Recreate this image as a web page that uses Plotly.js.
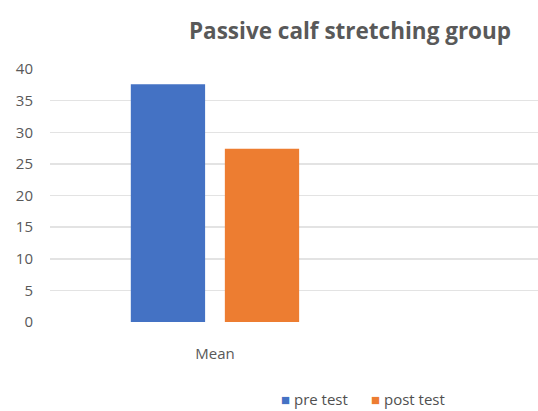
<!DOCTYPE html>
<html>
<head>
<meta charset="utf-8">
<script src="https://cdn.plot.ly/plotly-3.0.1.min.js"></script>
<style>
  html, body { margin: 0; padding: 0; background: #fff; }
  #chart { width: 538px; height: 411px; }
</style>
</head>
<body>
<div id="chart"></div>
<script>
// Mean scores, before and after passive calf stretching
const categories = ["Mean"];
const preTest = [37.6];
const postTest = [27.4];
const seriesNames = ["pre test", "post test"];
const seriesColors = ["#4472C4", "#ED7D31"];
const yTicks = [0, 5, 10, 15, 20, 25, 30, 35, 40];

const textColor = "#595959";
const fontFamily = "Open Sans, Liberation Sans, sans-serif";

const W = 538, H = 411;
const M = { l: 50, r: 0, t: 69, b: 89 };
const plotW = W - M.l - M.r;
const plotH = H - M.t - M.b;
// convert page pixel positions to paper fractions
const px = (x) => (x - M.l) / plotW;
const py = (y) => (H - M.b - y) / plotH;

const traces = [preTest, postTest].map((vals, i) => ({
  type: "bar",
  name: seriesNames[i],
  x: categories,
  y: vals,
  marker: { color: seriesColors[i] },
  hoverinfo: "y",
  showlegend: false
}));

// compact legend: coloured square glyph followed by the series name
const legendX = [280, 370];
const legendAnnotations = seriesNames.map((name, i) => ({
  xref: "paper",
  yref: "paper",
  x: px(legendX[i]),
  y: py(399),
  xanchor: "left",
  yanchor: "middle",
  showarrow: false,
  borderpad: 0,
  text: '<span style="color:' + seriesColors[i] + '">■</span> ' + name,
  font: { family: fontFamily, size: 15, color: "#505050" }
}));

const layout = {
  width: W,
  height: H,
  margin: M,
  paper_bgcolor: "#ffffff",
  plot_bgcolor: "#ffffff",
  font: { family: fontFamily, color: textColor, size: 15 },
  title: {
    text: "<b>Passive calf stretching group</b>",
    font: { family: fontFamily, size: 22.5, color: "#595959" },
    xref: "container",
    yref: "container",
    x: 350 / W,
    xanchor: "center",
    y: 1 - 31 / H,
    yanchor: "middle"
  },
  barmode: "group",
  bargap: 0.43,
  bargroupgap: 0.21,
  xaxis: {
    type: "category",
    range: [-0.5, 0.979],
    showgrid: false,
    zeroline: false,
    showline: false,
    ticks: "",
    automargin: false,
    ticklabelstandoff: 21,
    tickfont: { size: 15, color: textColor }
  },
  yaxis: {
    range: [0, 40],
    tickvals: yTicks,
    ticktext: yTicks.map(String),
    showgrid: true,
    gridcolor: "#e3e3e3",
    gridwidth: 1.5,
    zeroline: false,
    showline: false,
    ticks: "",
    automargin: false,
    ticklabelstandoff: 16,
    tickfont: { size: 15, color: textColor }
  },
  showlegend: false,
  annotations: legendAnnotations
};

Plotly.newPlot("chart", traces, layout, { displayModeBar: false, staticPlot: true });
</script>
</body>
</html>
